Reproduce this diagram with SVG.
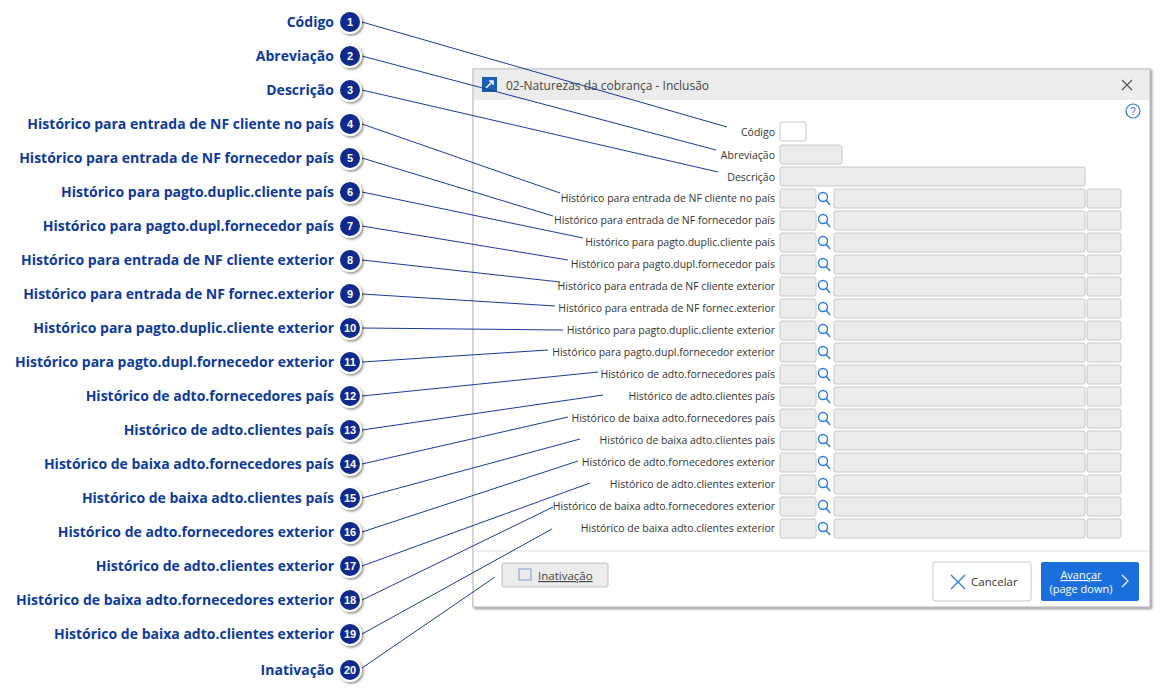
<svg xmlns="http://www.w3.org/2000/svg" width="1173" height="696" viewBox="0 0 1173 696">
<style>
.lb{font-family:"Open Sans","Liberation Sans",sans-serif;font-weight:bold;font-size:14px;fill:#0d3a9c;text-anchor:end}
.fl{font-family:"Open Sans","Liberation Sans",sans-serif;font-size:10.5px;fill:#333;text-anchor:end}
.nm{font-family:"Liberation Sans",sans-serif;font-weight:bold;font-size:11px;fill:#fff;text-anchor:middle}
.c{fill:#0b2a8c;stroke:#fff;stroke-width:2}
.in{fill:#ececec;stroke:#c8c8c8;stroke-width:1}
.ln{stroke:#1a3a9a;stroke-width:1;fill:none}
.lens{fill:none;stroke:#2a7ad8;stroke-width:1.4}
</style>
<defs>
<filter id="sh" x="-30%" y="-30%" width="160%" height="160%"><feDropShadow dx="1.5" dy="1.5" stdDeviation="1.2" flood-opacity="0.45"/></filter>
<g id="row"><rect class="in" x="780" y="-9" width="36" height="19" rx="2"/><circle class="lens" cx="823" cy="-1" r="4.5"/><line class="lens" x1="826" y1="2" x2="830" y2="7"/><rect class="in" x="834" y="-9" width="251" height="19" rx="2"/><rect class="in" x="1087" y="-9" width="34" height="19" rx="2"/></g>
</defs>
<rect width="1173" height="696" fill="#fff"/>
<g id="dialog">
<rect x="473" y="69" width="677" height="538" fill="#fff" stroke="#b0b0b0" filter="url(#sh)"/>
<rect x="474" y="70" width="675" height="30" fill="#ececec"/>
<rect x="482" y="77" width="15" height="15" fill="#1a5fb4"/>
<path d="M486 88 L493 81 M489 81 H493 V85" stroke="#fff" stroke-width="1.5" fill="none"/>
<text x="506" y="90" font-family="Open Sans,Liberation Sans,sans-serif" font-size="12" fill="#444">02-Naturezas da cobrança - Inclusão</text>
<path d="M1122 80 L1132 90 M1132 80 L1122 90" stroke="#555" stroke-width="1.2"/>
<circle cx="1133" cy="111" r="7" fill="none" stroke="#2a7ad8" stroke-width="1.2"/>
<text x="1133" y="115" font-family="Liberation Sans,sans-serif" font-size="10" fill="#2a7ad8" text-anchor="middle">?</text>
<line x1="474" y1="551" x2="1149" y2="551" stroke="#e0e0e0"/>
</g>
<g id="fields">
<text class="fl" x="775" y="136">Código</text><rect x="780" y="122" width="26" height="19" rx="2" fill="#fff" stroke="#c8c8c8"/>
<text class="fl" x="775" y="159">Abreviação</text><rect class="in" x="780" y="145" width="62" height="19" rx="2"/>
<text class="fl" x="775" y="181">Descrição</text><rect class="in" x="780" y="167" width="305" height="19" rx="2"/>
<text class="fl" x="775" y="202">Histórico para entrada de NF cliente no país</text><use href="#row" y="198"/>
<text class="fl" x="775" y="224">Histórico para entrada de NF fornecedor país</text><use href="#row" y="220"/>
<text class="fl" x="775" y="246">Histórico para pagto.duplic.cliente país</text><use href="#row" y="242"/>
<text class="fl" x="775" y="268">Histórico para pagto.dupl.fornecedor país</text><use href="#row" y="264"/>
<text class="fl" x="775" y="290">Histórico para entrada de NF cliente exterior</text><use href="#row" y="286"/>
<text class="fl" x="775" y="312">Histórico para entrada de NF fornec.exterior</text><use href="#row" y="308"/>
<text class="fl" x="775" y="334">Histórico para pagto.duplic.cliente exterior</text><use href="#row" y="330"/>
<text class="fl" x="775" y="356">Histórico para pagto.dupl.fornecedor exterior</text><use href="#row" y="352"/>
<text class="fl" x="775" y="378">Histórico de adto.fornecedores país</text><use href="#row" y="374"/>
<text class="fl" x="775" y="400">Histórico de adto.clientes país</text><use href="#row" y="396"/>
<text class="fl" x="775" y="422">Histórico de baixa adto.fornecedores país</text><use href="#row" y="418"/>
<text class="fl" x="775" y="444">Histórico de baixa adto.clientes país</text><use href="#row" y="440"/>
<text class="fl" x="775" y="466">Histórico de adto.fornecedores exterior</text><use href="#row" y="462"/>
<text class="fl" x="775" y="488">Histórico de adto.clientes exterior</text><use href="#row" y="484"/>
<text class="fl" x="775" y="510">Histórico de baixa adto.fornecedores exterior</text><use href="#row" y="506"/>
<text class="fl" x="775" y="532">Histórico de baixa adto.clientes exterior</text><use href="#row" y="528"/>
</g>
<g id="buttons">
<rect x="502" y="563" width="106" height="24" rx="2" fill="#ececec" stroke="#c0c0c0"/>
<rect x="519" y="569" width="12" height="11" fill="none" stroke="#7a9ad0"/>
<text x="538" y="580" font-family="Open Sans,Liberation Sans,sans-serif" font-size="11.5" fill="#444" text-decoration="underline">Inativação</text>
<rect x="933" y="562" width="98" height="39" rx="2" fill="#fff" stroke="#c8c8c8"/>
<path d="M951 575 L965 589 M965 575 L951 589" stroke="#2a7ad8" stroke-width="1.3"/>
<text x="971" y="586" font-family="Open Sans,Liberation Sans,sans-serif" font-size="11.5" fill="#333">Cancelar</text>
<rect x="1041" y="562" width="98" height="39" rx="2" fill="#1a6fdc"/>
<text x="1081" y="579" font-family="Open Sans,Liberation Sans,sans-serif" font-size="11" fill="#fff" text-anchor="middle" text-decoration="underline">Avançar</text>
<text x="1081" y="593" font-family="Open Sans,Liberation Sans,sans-serif" font-size="11" fill="#fff" text-anchor="middle">(page down)</text>
<path d="M1122 575 L1128 581 L1122 587" stroke="#fff" stroke-width="1.2" fill="none"/>
</g>
<g id="connectors">
<line class="ln" x1="362" y1="22" x2="727" y2="127"/>
<line class="ln" x1="362" y1="56" x2="716" y2="150"/>
<line class="ln" x1="362" y1="90" x2="718" y2="172"/>
<line class="ln" x1="362" y1="124" x2="560" y2="193"/>
<line class="ln" x1="362" y1="158" x2="553" y2="216"/>
<line class="ln" x1="362" y1="192" x2="583" y2="238"/>
<line class="ln" x1="362" y1="226" x2="568" y2="260"/>
<line class="ln" x1="362" y1="260" x2="560" y2="282"/>
<line class="ln" x1="362" y1="294" x2="555" y2="306"/>
<line class="ln" x1="362" y1="328" x2="563" y2="330"/>
<line class="ln" x1="362" y1="362" x2="548" y2="350"/>
<line class="ln" x1="362" y1="396" x2="598" y2="372"/>
<line class="ln" x1="362" y1="430" x2="603" y2="395"/>
<line class="ln" x1="362" y1="464" x2="568" y2="417"/>
<line class="ln" x1="362" y1="498" x2="580" y2="439"/>
<line class="ln" x1="362" y1="532" x2="578" y2="461"/>
<line class="ln" x1="362" y1="566" x2="590" y2="483"/>
<line class="ln" x1="362" y1="600" x2="553" y2="507"/>
<line class="ln" x1="362" y1="634" x2="552" y2="529"/>
<line class="ln" x1="362" y1="668" x2="495" y2="577"/>
</g>
<g id="callouts">
<g id="n1"><text class="lb" x="334" y="27">Código</text><circle class="c" filter="url(#sh)" cx="350" cy="22" r="11"/><text class="nm" x="350" y="26">1</text></g>
<g id="n2"><text class="lb" x="334" y="61">Abreviação</text><circle class="c" filter="url(#sh)" cx="350" cy="56" r="11"/><text class="nm" x="350" y="60">2</text></g>
<g id="n3"><text class="lb" x="334" y="95">Descrição</text><circle class="c" filter="url(#sh)" cx="350" cy="90" r="11"/><text class="nm" x="350" y="94">3</text></g>
<g id="n4"><text class="lb" x="334" y="129">Histórico para entrada de NF cliente no país</text><circle class="c" filter="url(#sh)" cx="350" cy="124" r="11"/><text class="nm" x="350" y="128">4</text></g>
<g id="n5"><text class="lb" x="334" y="163">Histórico para entrada de NF fornecedor país</text><circle class="c" filter="url(#sh)" cx="350" cy="158" r="11"/><text class="nm" x="350" y="162">5</text></g>
<g id="n6"><text class="lb" x="334" y="197">Histórico para pagto.duplic.cliente país</text><circle class="c" filter="url(#sh)" cx="350" cy="192" r="11"/><text class="nm" x="350" y="196">6</text></g>
<g id="n7"><text class="lb" x="334" y="231">Histórico para pagto.dupl.fornecedor país</text><circle class="c" filter="url(#sh)" cx="350" cy="226" r="11"/><text class="nm" x="350" y="230">7</text></g>
<g id="n8"><text class="lb" x="334" y="265">Histórico para entrada de NF cliente exterior</text><circle class="c" filter="url(#sh)" cx="350" cy="260" r="11"/><text class="nm" x="350" y="264">8</text></g>
<g id="n9"><text class="lb" x="334" y="299">Histórico para entrada de NF fornec.exterior</text><circle class="c" filter="url(#sh)" cx="350" cy="294" r="11"/><text class="nm" x="350" y="298">9</text></g>
<g id="n10"><text class="lb" x="334" y="333">Histórico para pagto.duplic.cliente exterior</text><circle class="c" filter="url(#sh)" cx="350" cy="328" r="11"/><text class="nm" x="350" y="332">10</text></g>
<g id="n11"><text class="lb" x="334" y="367">Histórico para pagto.dupl.fornecedor exterior</text><circle class="c" filter="url(#sh)" cx="350" cy="362" r="11"/><text class="nm" x="350" y="366">11</text></g>
<g id="n12"><text class="lb" x="334" y="401">Histórico de adto.fornecedores país</text><circle class="c" filter="url(#sh)" cx="350" cy="396" r="11"/><text class="nm" x="350" y="400">12</text></g>
<g id="n13"><text class="lb" x="334" y="435">Histórico de adto.clientes país</text><circle class="c" filter="url(#sh)" cx="350" cy="430" r="11"/><text class="nm" x="350" y="434">13</text></g>
<g id="n14"><text class="lb" x="334" y="469">Histórico de baixa adto.fornecedores país</text><circle class="c" filter="url(#sh)" cx="350" cy="464" r="11"/><text class="nm" x="350" y="468">14</text></g>
<g id="n15"><text class="lb" x="334" y="503">Histórico de baixa adto.clientes país</text><circle class="c" filter="url(#sh)" cx="350" cy="498" r="11"/><text class="nm" x="350" y="502">15</text></g>
<g id="n16"><text class="lb" x="334" y="537">Histórico de adto.fornecedores exterior</text><circle class="c" filter="url(#sh)" cx="350" cy="532" r="11"/><text class="nm" x="350" y="536">16</text></g>
<g id="n17"><text class="lb" x="334" y="571">Histórico de adto.clientes exterior</text><circle class="c" filter="url(#sh)" cx="350" cy="566" r="11"/><text class="nm" x="350" y="570">17</text></g>
<g id="n18"><text class="lb" x="334" y="605">Histórico de baixa adto.fornecedores exterior</text><circle class="c" filter="url(#sh)" cx="350" cy="600" r="11"/><text class="nm" x="350" y="604">18</text></g>
<g id="n19"><text class="lb" x="334" y="639">Histórico de baixa adto.clientes exterior</text><circle class="c" filter="url(#sh)" cx="350" cy="634" r="11"/><text class="nm" x="350" y="638">19</text></g>
<g id="n20"><text class="lb" x="334" y="675">Inativação</text><circle class="c" filter="url(#sh)" cx="350" cy="670" r="11"/><text class="nm" x="350" y="674">20</text></g>
</g>
</svg>
